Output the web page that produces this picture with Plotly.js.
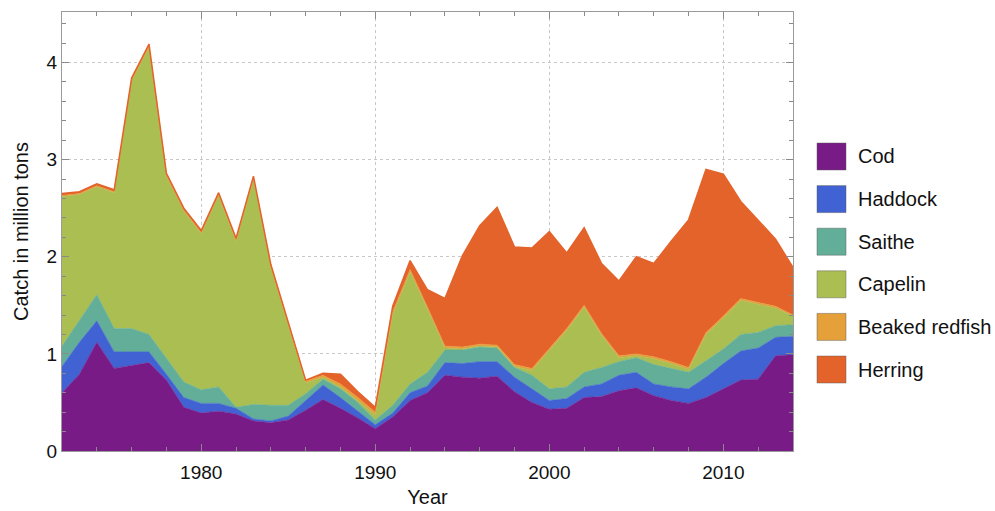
<!DOCTYPE html>
<html>
<head>
<meta charset="utf-8">
<script src="https://cdn.plot.ly/plotly-3.0.1.min.js"></script>
<style>html,body{margin:0;padding:0;background:#fff;}#chart{width:995px;height:511px;}</style>
</head>
<body>
<div id="chart"></div>
<script>
// ---- data (million tons) ----
var years = [1972,1973,1974,1975,1976,1977,1978,1979,1980,1981,
             1982,1983,1984,1985,1986,1987,1988,1989,1990,1991,
             1992,1993,1994,1995,1996,1997,1998,1999,2000,2001,
             2002,2003,2004,2005,2006,2007,2008,2009,2010,2011,
             2012,2013,2014];
var cod = [0.60,0.79,1.12,0.85,0.88,0.91,0.73,0.45,0.39,0.41,
           0.38,0.31,0.29,0.32,0.42,0.53,0.44,0.34,0.23,0.35,
           0.52,0.60,0.78,0.76,0.75,0.77,0.61,0.50,0.43,0.44,
           0.55,0.56,0.62,0.65,0.57,0.52,0.49,0.55,0.64,0.73,
           0.74,0.98,0.99];
var haddock = [0.27,0.33,0.22,0.17,0.14,0.11,0.06,0.10,0.10,0.08,
               0.06,0.02,0.02,0.04,0.10,0.15,0.11,0.07,0.04,0.04,
               0.08,0.07,0.13,0.14,0.17,0.15,0.15,0.14,0.09,0.10,
               0.11,0.13,0.16,0.16,0.12,0.14,0.15,0.21,0.26,0.30,
               0.32,0.19,0.19];
var saithe = [0.21,0.23,0.27,0.24,0.24,0.18,0.16,0.16,0.14,0.17,
              0.01,0.15,0.16,0.11,0.07,0.06,0.09,0.09,0.05,0.08,
              0.09,0.14,0.13,0.14,0.15,0.14,0.10,0.14,0.12,0.12,
              0.15,0.17,0.14,0.15,0.20,0.19,0.17,0.17,0.15,0.17,
              0.16,0.12,0.12];
var capelin = [1.54,1.29,1.11,1.40,2.55,2.96,1.88,1.76,1.61,1.97,
               1.71,2.32,1.42,0.82,0.11,0.02,0.02,0.02,0.05,0.93,
               1.15,0.65,0.02,0.01,0.01,0.01,0.01,0.05,0.39,0.58,
               0.67,0.33,0.04,0.02,0.06,0.05,0.03,0.27,0.32,0.35,
               0.29,0.18,0.09];
var redfish = [0.01,0.01,0.01,0.01,0.01,0.01,0.01,0.01,0.01,0.01,
               0.01,0.01,0.01,0.01,0.02,0.02,0.03,0.03,0.03,0.03,
               0.03,0.02,0.02,0.02,0.02,0.02,0.02,0.02,0.02,0.02,
               0.02,0.02,0.02,0.02,0.02,0.02,0.02,0.02,0.02,0.02,
               0.02,0.02,0.01];
var herring = [0.02,0.02,0.02,0.02,0.02,0.02,0.02,0.02,0.02,0.02,
               0.02,0.02,0.02,0.02,0.01,0.02,0.10,0.06,0.05,0.06,
               0.09,0.18,0.49,0.94,1.22,1.42,1.21,1.24,1.21,0.78,
               0.80,0.72,0.77,1.00,0.96,1.24,1.52,1.68,1.46,1.00,
               0.84,0.69,0.49];

var seriesNames = ["Cod","Haddock","Saithe","Capelin","Beaked redfish","Herring"];
var seriesColors = ["#781B86","#4162D2","#62AE99","#AABE52","#E6A03A","#E3632B"];
var seriesData = [cod, haddock, saithe, capelin, redfish, herring];

var FONT = "Liberation Sans, Arial, sans-serif";

var traces = seriesData.map(function(v, i){
  return {
    x: years, y: v, name: seriesNames[i], type: "scatter", mode: "lines",
    stackgroup: "catch", fillcolor: seriesColors[i],
    line: {color: seriesColors[i], width: i === 5 ? 1.5 : 0.6},
    showlegend: false, hoverinfo: "x+y+name"
  };
});

// ---- layout geometry ----
var W = 995, H = 511, ML = 62, MR = 202, MT = 12, MB = 60;
var PW = W - ML - MR, PH = H - MT - MB;
function px2x(px){ return (px - ML) / PW; }
function px2y(py){ return (H - MB - py) / PH; }

var shapes = [], annotations = [];
for (var k = 0; k < seriesNames.length; k++) {
  var rowTop = 143 + k * 42.6;
  shapes.push({type: "rect", xref: "paper", yref: "paper",
    x0: px2x(817), x1: px2x(846), y0: px2y(rowTop + 27), y1: px2y(rowTop),
    fillcolor: seriesColors[k], line: {color: "rgba(90,90,90,0.45)", width: 1}});
  annotations.push({xref: "paper", yref: "paper", x: px2x(856), y: px2y(rowTop + 13.5),
    xanchor: "left", yanchor: "middle", showarrow: false, text: seriesNames[k],
    font: {family: FONT, size: 20, color: "#111"}});
}

var axisCommon = {
  showline: true, linecolor: "#9a9a9a", linewidth: 1.2, mirror: "allticks",
  ticks: "inside", ticklen: 7, tickcolor: "#8a8a8a", tickwidth: 1,
  showgrid: true, gridcolor: "#c8c8c8", griddash: "dot", gridwidth: 1,
  zeroline: false,
  tickfont: {family: FONT, size: 19, color: "#111"}
};

var layout = {
  width: W, height: H,
  margin: {l: ML, r: MR, t: MT, b: MB, pad: 0},
  paper_bgcolor: "#fff", plot_bgcolor: "#fff",
  showlegend: false,
  xaxis: Object.assign({}, axisCommon, {
    range: [1972, 2014], tick0: 1980, dtick: 10, ticklabelstandoff: 4,
    minor: {dtick: 2, tick0: 1972, ticks: "inside", ticklen: 4, tickcolor: "#8a8a8a", showgrid: false},
    title: {text: "Year", font: {family: FONT, size: 20, color: "#111"}, standoff: 8}
  }),
  yaxis: Object.assign({}, axisCommon, {
    range: [0, 4.52], tick0: 0, dtick: 1,
    minor: {dtick: 0.2, ticks: "inside", ticklen: 4, tickcolor: "#8a8a8a", showgrid: false},
    title: {text: "Catch in million tons", font: {family: FONT, size: 20, color: "#111"}, standoff: 12}
  }),
  shapes: shapes,
  annotations: annotations
};

Plotly.newPlot("chart", traces, layout, {staticPlot: true, displayModeBar: false});
</script>
</body>
</html>
